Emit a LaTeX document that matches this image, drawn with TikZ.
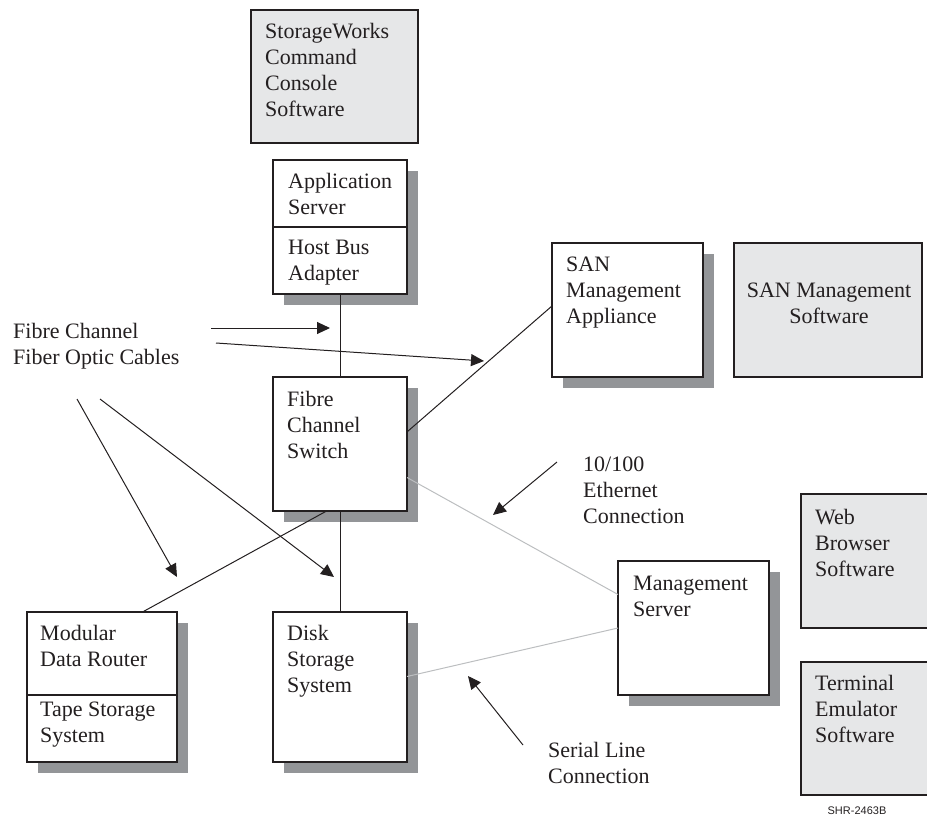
\documentclass[tikz,border=0pt]{standalone}
\usepackage{fontspec}
\setmainfont{Liberation Serif}
\newfontfamily\labelsans{Liberation Sans}
\usetikzlibrary{arrows.meta,calc,backgrounds}
\definecolor{ink}{HTML}{231F20}
\definecolor{shadowgray}{HTML}{939598}
\definecolor{softgray}{HTML}{E6E7E8}
\definecolor{wire}{HTML}{BCBEC0}
\newcommand\dropshade[2]{\fill[fill=shadowgray] ($(#1.north west)+(11,11)$) rectangle ($(#2.south east)+(11,11)$);}
\begin{document}
\begin{tikzpicture}[x=1pt,y=-1pt,
  box/.style={draw=ink, line width=1.2pt, fill=white, anchor=north west, inner sep=0pt, outer sep=0pt},
  softbox/.style={box, fill=softgray},
  txt/.style={anchor=north west, inner sep=0pt, align=left, text=ink, font=\fontsize{22}{26}\selectfont},
  conn/.style={draw=ink, line width=1pt},
  wireline/.style={draw=wire, line width=1pt},
  pointer/.style={draw=ink, line width=1pt, -{Triangle[length=13pt,width=12pt]}}
]
\useasboundingbox (0,0) rectangle (927,817);

% boxes
\node[softbox, minimum width=167pt, minimum height=133pt,
  label={[txt, xshift=14pt, yshift=-13pt]north west:{StorageWorks\\Command\\Console\\Software}}] (scc) at (251,10) {};

\node[box, minimum width=134pt, minimum height=67pt,
  label={[txt, xshift=15pt, yshift=-13pt]north west:{Application\\Server}}] (app) at (273,160) {};
\node[box, minimum width=134pt, minimum height=67pt,
  label={[txt, xshift=15pt, yshift=-13pt]north west:{Host Bus\\Adapter}}] (hba) at (273,227) {};

\node[box, minimum width=134pt, minimum height=134pt,
  label={[txt, xshift=14pt, yshift=-14pt]north west:{Fibre\\Channel\\Switch}}] (fc) at (273,377) {};

\node[box, minimum width=151pt, minimum height=134pt,
  label={[txt, xshift=14pt, yshift=-14pt]north west:{SAN\\Management\\Appliance}}] (sanapp) at (552,243) {};

\node[softbox, minimum width=188pt, minimum height=134pt] (sansw) at (734,243) {};
\node[anchor=north, inner sep=0pt, align=center, text=ink, font=\fontsize{22}{26}\selectfont] (sanswt) at (829,283) {SAN Management\\Software};

\node[box, minimum width=151pt, minimum height=134pt,
  label={[txt, xshift=15pt, yshift=-15pt]north west:{Management\\Server}}] (ms) at (618,561) {};

\node[softbox, minimum width=130pt, minimum height=134pt,
  label={[txt, xshift=14pt, yshift=-15pt]north west:{Web\\Browser\\Software}}] (web) at (801,494) {};
\node[softbox, minimum width=130pt, minimum height=133pt,
  label={[txt, xshift=14pt, yshift=-13pt]north west:{Terminal\\Emulator\\Software}}] (term) at (801,662) {};

\node[box, minimum width=150pt, minimum height=83pt,
  label={[txt, xshift=13pt, yshift=-13pt]north west:{Modular\\Data Router}}] (router) at (27,612) {};
\node[box, minimum width=150pt, minimum height=67pt,
  label={[txt, xshift=13pt, yshift=-7pt]north west:{Tape Storage\\System}}] (tape) at (27,695) {};

\node[box, minimum width=134pt, minimum height=150pt,
  label={[txt, xshift=14pt, yshift=-13pt]north west:{Disk\\Storage\\System}}] (disk) at (273,612) {};

% shadows
\begin{scope}[on background layer]
  \dropshade{app}{hba}
  \dropshade{fc}{fc}
  \dropshade{sanapp}{sanapp}
  \dropshade{ms}{ms}
  \dropshade{router}{tape}
  \dropshade{disk}{disk}
\end{scope}

% free text
\node[txt] (fcl) at (13,323) {Fibre Channel\\Fiber Optic Cables};
\node[txt] (ethl) at (583,457) {10/100\\Ethernet\\Connection};
\node[txt] (serl) at (548,742) {Serial Line\\Connection};
\node[inner sep=0pt, text=ink, font=\labelsans\fontsize{11}{13}\selectfont] (code) at (857,811) {SHR-2463B};

% connectors
\draw[conn] (hba.south) -- (fc.north);
\draw[conn] (fc.south) -- (disk.north);
\draw[conn] ($(fc.south west)!0.4!(fc.south east)$) -- ($(router.north west)!0.77!(router.north east)$);
\draw[conn] ($(fc.north east)!0.41!(fc.south east)$) -- ($(sanapp.north west)!0.47!(sanapp.south west)$);
\draw[wireline] ($(fc.north east)!0.75!(fc.south east)$) -- ($(ms.north west)!0.25!(ms.south west)$);
\draw[wireline] ($(disk.north east)!0.43!(disk.south east)$) -- ($(ms.north west)!0.5!(ms.south west)$);

% pointer arrows
\coordinate (a1s) at (211,328); \coordinate (a1e) at (330,328);
\coordinate (a2s) at (216,343); \coordinate (a2e) at (484,361);
\coordinate (a3s) at (77,399);  \coordinate (a3e) at (177,577);
\coordinate (a4s) at (100,399); \coordinate (a4e) at (334,577);
\coordinate (a5s) at (557,462); \coordinate (a5e) at (493,515);
\coordinate (a6s) at (523,745); \coordinate (a6e) at (468,676);
\draw[pointer] (a1s) -- (a1e);
\draw[pointer] (a2s) -- (a2e);
\draw[pointer] (a3s) -- (a3e);
\draw[pointer] (a4s) -- (a4e);
\draw[pointer] (a5s) -- (a5e);
\draw[pointer] (a6s) -- (a6e);
\end{tikzpicture}
\end{document}
